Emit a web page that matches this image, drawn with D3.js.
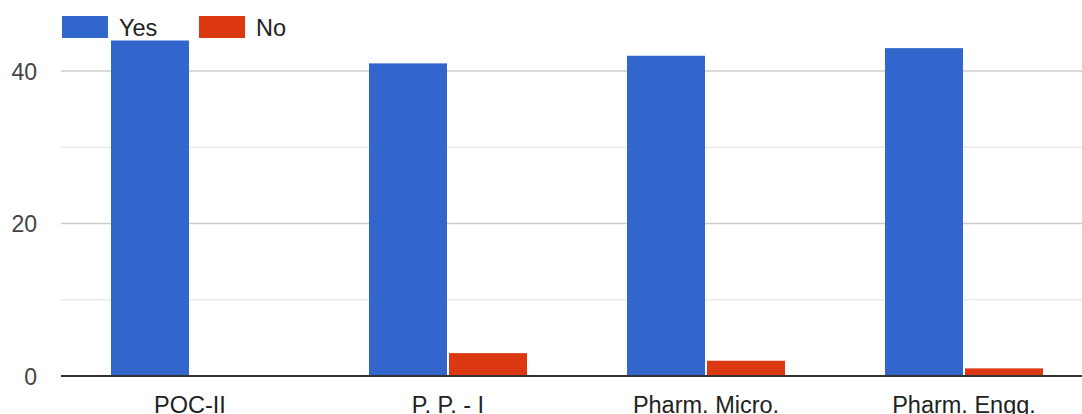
<!DOCTYPE html>
<html>
<head>
<meta charset="utf-8">
<script src="https://cdn.jsdelivr.net/npm/d3@7"></script>
<style>
  html, body { margin: 0; padding: 0; background: #fff; overflow: hidden; }
  svg { display: block; font-family: "Liberation Sans", Arial, sans-serif; }
</style>
</head>
<body>
<svg id="chart" width="1082" height="414"></svg>
<script>
const categories = ["POC-II", "P. P. - I", "Pharm. Micro.", "Pharm. Engg."];
const seriesNames = ["Yes", "No"];
const yesValues = [44, 41, 42, 43];
const noValues = [0, 3, 2, 1];
const majorTicks = [0, 20, 40];
const minorTicks = [10, 30];
const colors = ["#3366cc", "#dc3912"];

const W = 1082, H = 414;
const svg = d3.select("#chart");
const plotLeft = 61, plotRight = 1093, plotBottom = 376, plotTop = 71;

const x0 = d3.scaleBand().domain(categories).range([plotLeft, plotRight])
  .paddingInner(100 / 258).paddingOuter(50 / 258);
const x1 = d3.scaleBand().domain(seriesNames).range([0, x0.bandwidth()]).paddingInner(0.025);
const y = d3.scaleLinear().domain([0, 40]).range([plotBottom, plotTop]);
const color = d3.scaleOrdinal().domain(seriesNames).range(colors);

// minor gridlines
svg.append("g").selectAll("line").data(minorTicks).join("line")
  .attr("x1", plotLeft).attr("x2", W)
  .attr("y1", d => y(d)).attr("y2", d => y(d))
  .attr("stroke", "#ebebeb").attr("stroke-width", 1.5);
// major gridlines
svg.append("g").selectAll("line").data(majorTicks.filter(d => d !== 0)).join("line")
  .attr("x1", plotLeft).attr("x2", W)
  .attr("y1", d => y(d)).attr("y2", d => y(d))
  .attr("stroke", "#cccccc").attr("stroke-width", 1.5);

// y labels via axis
const yAxis = d3.axisLeft(y).tickValues(majorTicks).tickSize(0).tickPadding(0).tickFormat(d3.format("d"));
const gy = svg.append("g").attr("transform", "translate(37,0)").call(yAxis);
gy.select(".domain").remove();
gy.selectAll("text").attr("font-size", 23).attr("fill", "#444")
  .attr("font-family", "'Liberation Sans', Arial, sans-serif").attr("dy", "0.36em");

// bars
const data = categories.map((c, i) => ({ cat: c, vals: [
  { key: "Yes", value: yesValues[i] }, { key: "No", value: noValues[i] }] }));
const groups = svg.append("g").selectAll("g").data(data).join("g")
  .attr("transform", d => `translate(${x0(d.cat)},0)`);
groups.selectAll("rect").data(d => d.vals.filter(v => v.value > 0)).join("rect")
  .attr("x", d => x1(d.key)).attr("width", x1.bandwidth())
  .attr("y", d => y(d.value)).attr("height", d => y(0) - y(d.value))
  .attr("fill", d => color(d.key));

// baseline
svg.append("line").attr("x1", plotLeft).attr("x2", W)
  .attr("y1", y(0)).attr("y2", y(0))
  .attr("stroke", "#333333").attr("stroke-width", 2);

// x labels via axis
const xAxis = d3.axisBottom(x0).tickSize(0).tickPadding(0);
const gx = svg.append("g").attr("transform", "translate(0,413)").call(xAxis);
gx.select(".domain").remove();
gx.selectAll("text").attr("font-size", 23.5).attr("fill", "#222")
  .attr("font-family", "'Liberation Sans', Arial, sans-serif").attr("dy", null).attr("y", 0);

// legend
const legendX = [62, 199];
const leg = svg.append("g").selectAll("g").data(seriesNames).join("g")
  .attr("transform", (d, i) => `translate(${legendX[i]},16)`);
leg.append("rect").attr("width", 46).attr("height", 22).attr("fill", d => color(d));
leg.append("text").attr("x", 57).attr("y", 20).attr("font-size", 23.5)
  .attr("fill", "#222").text(d => d);
</script>
</body>
</html>
